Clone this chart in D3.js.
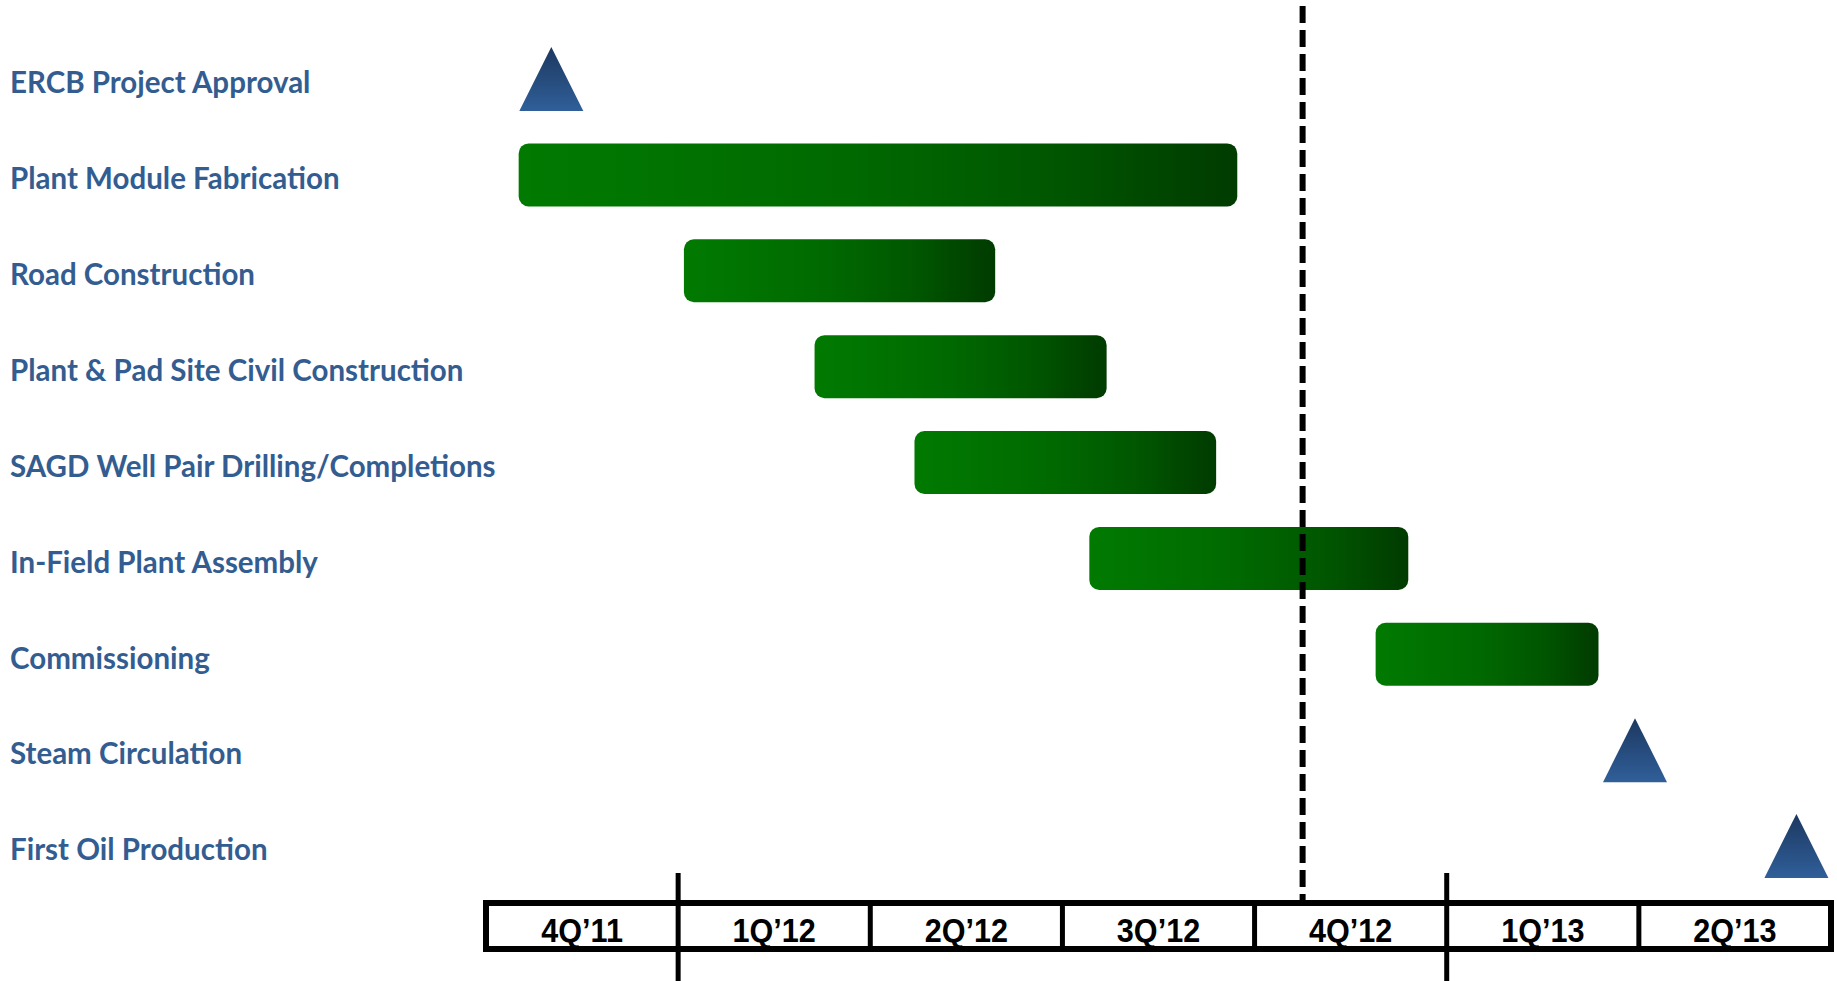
<!DOCTYPE html>
<html>
<head>
<meta charset="utf-8">
<script src="https://cdn.jsdelivr.net/npm/d3@7"></script>
<style>
  html, body { margin: 0; padding: 0; background: #fff; }
  #chart { width: 1837px; height: 981px; }
</style>
</head>
<body>
<div id="chart"></div>
<script>
// Project schedule (Gantt) - positions are in quarters from start of 4Q'11
const tasks = [
  "ERCB Project Approval",
  "Plant Module Fabrication",
  "Road Construction",
  "Plant & Pad Site Civil Construction",
  "SAGD Well Pair Drilling/Completions",
  "In-Field Plant Assembly",
  "Commissioning",
  "Steam Circulation",
  "First Oil Production"
]
const kinds = ["milestone", "bar", "bar", "bar", "bar", "bar", "bar", "milestone", "milestone"]
const starts = [0.34, 0.17, 1.03, 1.71, 2.23, 3.14, 4.63, 5.98, 6.82]
const ends = [null, 3.91, 2.65, 3.23, 3.80, 4.80, 5.79, null, null]

const quarterLabels = ["4Q\u201911", "1Q\u201912", "2Q\u201912", "3Q\u201912", "4Q\u201912", "1Q\u201913", "2Q\u201913"]
const yearBreaks = [1, 5]   // quarter boundaries where a new year starts
const statusDate = 4.25     // dashed "today" line

const rows = tasks.map((t, i) => ({ task: t, kind: kinds[i], start: starts[i], end: ends[i] }))

const width = 1837
const height = 981

const svg = d3.select("#chart")
  .append("svg")
  .attr("width", width)
  .attr("height", height)

const defs = svg.append("defs")

// horizontal green gradient for the bars
const barGrad = defs.append("linearGradient")
  .attr("id", "barGrad")
  .attr("x1", "0").attr("x2", "1").attr("y1", "0").attr("y2", "0")
barGrad.selectAll("stop")
  .data([[0, "#017a01"], [0.45, "#006a00"], [0.75, "#005600"], [0.95, "#004000"], [1, "#003c00"]])
  .enter().append("stop")
  .attr("offset", d => d[0])
  .attr("stop-color", d => d[1])

// vertical blue gradient for the milestones
const triGrad = defs.append("linearGradient")
  .attr("id", "triGrad")
  .attr("x1", "0").attr("x2", "0").attr("y1", "0").attr("y2", "1")
triGrad.selectAll("stop")
  .data([[0, "#1c3860"], [1, "#305f99"]])
  .enter().append("stop")
  .attr("offset", d => d[0])
  .attr("stop-color", d => d[1])

// Scales
const x = d3.scaleLinear()
  .domain([0, quarterLabels.length])
  .range([486, 1831])

const y = d3.scalePoint()
  .domain(tasks)
  .range([79, 846])

const barH = 63
const triSize = 64

// Task labels
svg.append("g")
  .selectAll("text")
  .data(rows)
  .enter()
  .append("text")
  .attr("x", 10)
  .attr("y", d => y(d.task) + 4)
  .attr("dy", "0.35em")
  .style("font-family", "Lato, 'Open Sans', sans-serif")
  .style("font-weight", "700")
  .style("font-size", "29.5px")
  .style("fill", "#335d91")
  .text(d => d.task)

// Bars
svg.append("g")
  .selectAll("rect")
  .data(rows.filter(d => d.kind === "bar"))
  .enter()
  .append("rect")
  .attr("x", d => x(d.start))
  .attr("y", d => y(d.task) - barH / 2)
  .attr("width", d => x(d.end) - x(d.start))
  .attr("height", barH)
  .attr("rx", 10)
  .attr("fill", "url(#barGrad)")

// Milestones
svg.append("g")
  .selectAll("path")
  .data(rows.filter(d => d.kind === "milestone"))
  .enter()
  .append("path")
  .attr("d", d => {
    const cx = x(d.start), cy = y(d.task)
    return `M${cx},${cy - triSize / 2} L${cx + triSize / 2},${cy + triSize / 2} L${cx - triSize / 2},${cy + triSize / 2} Z`
  })
  .attr("fill", "url(#triGrad)")

// Time axis box
const axisTop = 903
const axisBottom = 949
const axis = svg.append("g")

axis.append("rect")
  .attr("x", x(0))
  .attr("y", axisTop)
  .attr("width", x(quarterLabels.length) - x(0))
  .attr("height", axisBottom - axisTop)
  .attr("fill", "#fff")
  .attr("stroke", "#000")
  .attr("stroke-width", 6)

axis.selectAll("line.div")
  .data(d3.range(1, quarterLabels.length))
  .enter()
  .append("line")
  .attr("class", "div")
  .attr("x1", d => x(d)).attr("x2", d => x(d))
  .attr("y1", d => yearBreaks.includes(d) ? 873 : axisTop)
  .attr("y2", d => yearBreaks.includes(d) ? height : axisBottom)
  .attr("stroke", "#000")
  .attr("stroke-width", 5)

// quarter labels: condensed Arial-style bold
axis.selectAll("text")
  .data(quarterLabels)
  .enter()
  .append("text")
  .attr("transform", (d, i) => `translate(${x(i + 0.5)},930) scale(0.9,1)`)
  .attr("dy", "0.36em")
  .attr("text-anchor", "middle")
  .style("font-family", "'Liberation Sans', Arial, sans-serif")
  .style("font-weight", "700")
  .style("font-size", "34px")
  .style("fill", "#000")
  .text(d => d)

// Status date dashed line
svg.append("line")
  .attr("x1", x(statusDate)).attr("x2", x(statusDate))
  .attr("y1", 6)
  .attr("y2", axisTop)
  .attr("stroke", "#000")
  .attr("stroke-width", 6)
  .attr("stroke-dasharray", "17,7")
</script>
</body>
</html>
